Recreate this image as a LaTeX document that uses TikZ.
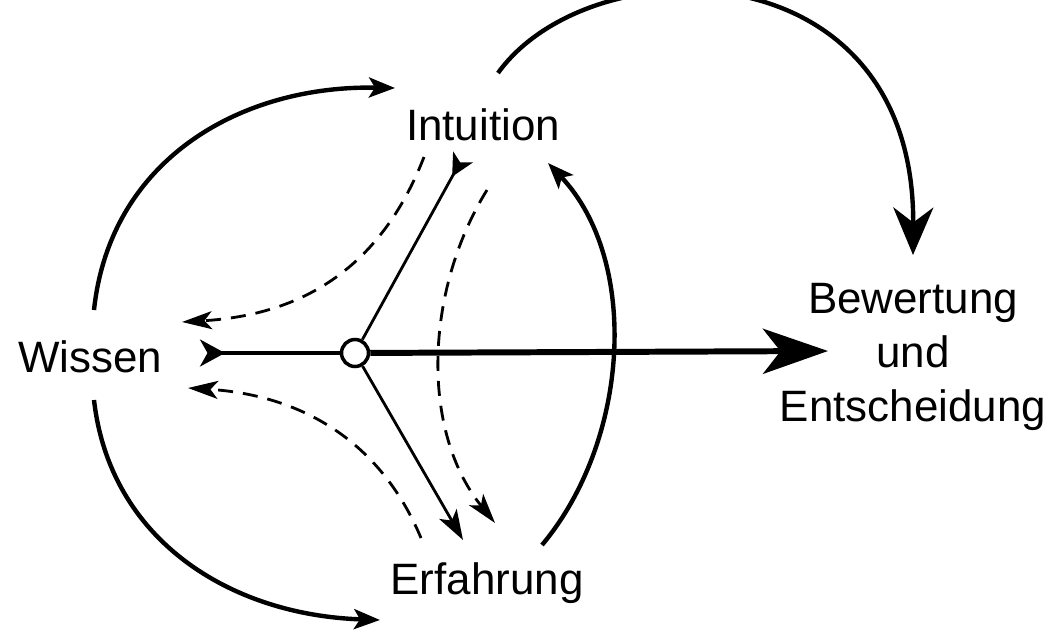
\documentclass[tikz,border=0pt]{standalone}
\usepackage{fontspec}
\setmainfont{Liberation Sans}
\usetikzlibrary{arrows.meta,positioning}
\tikzset{
  lbl/.style={font=\fontsize{25}{30.5}\selectfont,inner sep=0pt},
  arc/.style={line width=2.5pt,-{Stealth[length=0.52cm,width=0.4cm,inset=0.12cm]}},
  bigarc/.style={line width=2.5pt,-{Stealth[length=0.95cm,width=0.8cm,inset=0.3cm]}},
  spoke/.style={line width=1.6pt},
  back/.style={line width=1.6pt,dash pattern=on 0.3cm off 0.2cm,-{Stealth[length=0.6cm,width=0.36cm,inset=0.15cm]}},
}

\begin{document}
\begin{tikzpicture}[x=0.02cm,y=-0.02cm]
\useasboundingbox (0,0) rectangle (1055,629);
% the four terms and the hub
\node[lbl] (wis) at (90,357) {Wissen};
\node[lbl] (int) at (483,125) {Intuition};
\node[lbl] (erf) at (487,583) {Erfahrung};
\node[lbl,align=center] (bew) at (913,357) {Bewertung\\und\\Entscheidung};
\node[draw,circle,line width=2pt,fill=white,minimum size=0.54cm,inner sep=0pt] (hub) at (355,353) {};
% free ends
\coordinate (wis-in) at (200,353);
\coordinate (int-in) at (463,157);
\coordinate (erf-in) at (463,540);
\coordinate (bew-in) at (828,351);
\coordinate (wis-up) at (94,310);   \coordinate (int-l) at (395,88);
\coordinate (wis-dn) at (94,400);   \coordinate (erf-l) at (380,620);
\coordinate (erf-r) at (542,545);   \coordinate (int-r) at (548,163);
\coordinate (int-top) at (498,73);  \coordinate (bew-top) at (913,255);
\coordinate (int-d1) at (424,157);  \coordinate (wis-d1) at (182,322);
\coordinate (erf-d1) at (421,538);  \coordinate (wis-d2) at (188,388);
\coordinate (int-d2) at (487,190);  \coordinate (erf-d2) at (495,523);
% spokes
\draw[spoke,line width=2pt,{Stealth[reversed,length=0.5cm,width=0.54cm,inset=0.15cm]}-] (wis-in) -- (hub);
\draw[spoke,{Stealth[reversed,length=0.45cm,width=0.45cm,inset=0.12cm]}-] (int-in) -- (hub);
\draw[spoke,-{Stealth[length=0.6cm,width=0.4cm,inset=0.15cm]}] (hub) -- (erf-in);
\draw[line width=3.4pt,-{Stealth[length=1.3cm,width=0.9cm,inset=0.35cm]}] (hub) -- (bew-in);
% dashed returns
\draw[back] (int-d1) .. controls (380,270) and (300,315) .. (wis-d1);
\draw[back] (erf-d1) .. controls (380,440) and (300,395) .. (wis-d2);
\draw[back] (int-d2) .. controls (425,290) and (420,430) .. (erf-d2);
% outer arcs
\draw[arc] (wis-up) .. controls (110,160) and (240,85) .. (int-l);
\draw[arc] (wis-dn) .. controls (110,540) and (230,615) .. (erf-l);
\draw[arc] (erf-r) .. controls (630,440) and (640,260) .. (int-r);
\draw[bigarc] (int-top) .. controls (590,-55) and (915,-55) .. (bew-top);
\end{tikzpicture}
\end{document}
